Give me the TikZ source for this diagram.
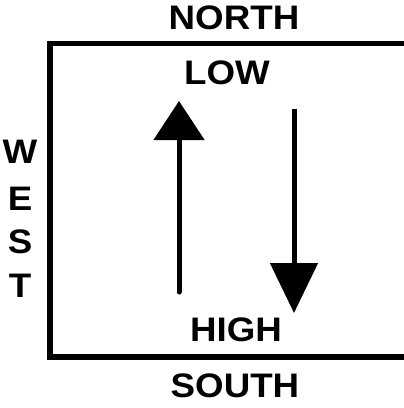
\documentclass[tikz,border=0pt]{standalone}
\usepackage{fontspec}
\newfontfamily\dirfont[FakeStretch=1.08]{Liberation Sans}
\usepackage{tikz}
\usetikzlibrary{arrows.meta,positioning}

\begin{document}
\begin{tikzpicture}[x=1pt,y=-1pt,
    dirlabel/.style={inner sep=0pt,anchor=base,font=\dirfont\bfseries\fontsize{34}{34}\selectfont},
    flowarrow/.style={line width=5pt,-{Triangle[width=50pt,length=39pt]}}]
            \useasboundingbox (0,0) rectangle (404,408);
            % box, open to the right
            \coordinate (nw) at (50,43.5);
            \coordinate (sw) at (50,357);
            \draw[line width=5.5pt] (406,43.5) -- (nw) -- (sw) -- (406,357);
            % compass labels
            \node[dirlabel] (north) at (234,29) {NORTH};
            \node[dirlabel] (south) at (235,397) {SOUTH};
            \foreach \ch/\yy [count=\i] in {W/163,E/210,S/253,T/297}{\node[dirlabel] (west\i) at (20,\yy) {\ch};}
            \node[dirlabel] (low) at (227,84) {LOW};
            \node[dirlabel] (high) at (236,341) {HIGH};
            % arrows
            \coordinate (upfoot) at (179,292);
            \coordinate (uptip) at (179,101);
            \coordinate (downtop) at (294,109);
            \coordinate (downtip) at (294,313);
            \draw[flowarrow,line cap=round] (upfoot) -- (uptip);
            \draw[flowarrow,-{Triangle[width=47pt,length=50pt]}] (downtop) -- (downtip);
        \end{tikzpicture}
\end{document}
